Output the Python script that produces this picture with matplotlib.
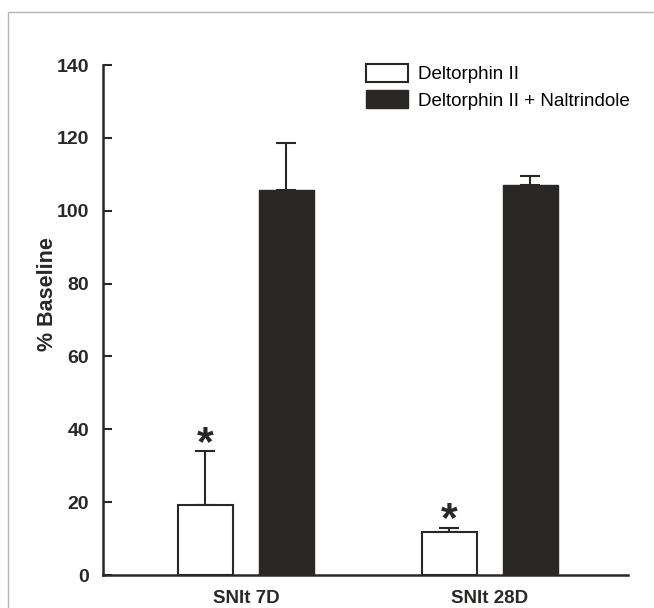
"""
Deltorphin II response with / without naltrindole, % of baseline
"""

import numpy as np
import matplotlib
matplotlib.use("Agg")
import matplotlib.pyplot as plt
from matplotlib.patches import Rectangle

plt.rcParams['font.family'] = ['Liberation Sans', 'DejaVu Sans']

# data
categories = ["SNIt 7D", "SNIt 28D"]
delt = [19.2, 11.8]
delt_err = [14.8, 1.1]
delt_nal = [105.7, 107.1]
delt_nal_err = [12.9, 2.4]
series_labels = ["Deltorphin II", "Deltorphin II + Naltrindole"]
yticks = [0, 20, 40, 60, 80, 100, 120, 140]

dark = '#2a2826'
W, H = 654, 608

fig = plt.figure(figsize=(W/100., H/100.), dpi=100)
ax = fig.add_axes([103./W, 1-575./H, 525./W, 510./H])

x = np.arange(len(categories))
width = 0.225
off = 0.166

ax.bar(x-off, delt, width, color='white', edgecolor=dark, linewidth=1.5,
       label=series_labels[0], zorder=2)
ax.bar(x+off, delt_nal, width, color=dark, edgecolor=dark, linewidth=1.0,
       label=series_labels[1], zorder=2)
# upper error bars only
ax.errorbar(x-off, delt, yerr=[np.zeros(len(delt)), delt_err], fmt='none',
            ecolor=dark, elinewidth=1.5, capsize=7.5, capthick=1.5, zorder=1)
ax.errorbar(x+off, delt_nal, yerr=[np.zeros(len(delt_nal)), delt_nal_err], fmt='none',
            ecolor=dark, elinewidth=1.5, capsize=7.5, capthick=1.5, zorder=1)

# significance stars over the deltorphin bars
for xi, v, e in zip(x-off, delt, delt_err):
    ax.annotate('*', xy=(xi, v+e), xytext=(0, -9), textcoords='offset points',
                ha='center', va='bottom', fontsize=31, fontweight='bold', color=dark)

ax.set_xlim(-0.586, 1.566)
ax.set_ylim(0, 140)
ax.set_yticks(yticks)
ax.set_xticks(x)
ax.set_xticklabels(categories, fontsize=13.5, fontweight='bold')
ax.tick_params(axis='x', length=0, pad=11, colors=dark)
ax.tick_params(axis='y', direction='in', length=6.5, width=1.5, pad=10, colors=dark,
               labelsize=14)
for lab in ax.get_yticklabels():
    lab.set_fontweight('bold')
for s in ['top', 'right']:
    ax.spines[s].set_visible(False)
for s in ['left', 'bottom']:
    ax.spines[s].set_linewidth(1.8)
    ax.spines[s].set_color(dark)

ax.set_ylabel("% Baseline", fontsize=15.5, fontweight='bold', color=dark)
ax.yaxis.set_label_coords(-0.085, 0.55)

ax.legend(loc='upper left', bbox_to_anchor=(366./W, 1-64./H),
          bbox_transform=fig.transFigure, frameon=False, fontsize=13.5,
          handlelength=2.25, handleheight=1.12, labelspacing=0.35,
          handletextpad=0.5, borderpad=0, borderaxespad=0)

# light frame around the panel
fig.patches.append(Rectangle((8./W, -0.1), 1.2, 1.1-12./H, transform=fig.transFigure,
                             fill=False, edgecolor='#b5b5b5', linewidth=1.0))

plt.savefig("out.png", dpi=100)
